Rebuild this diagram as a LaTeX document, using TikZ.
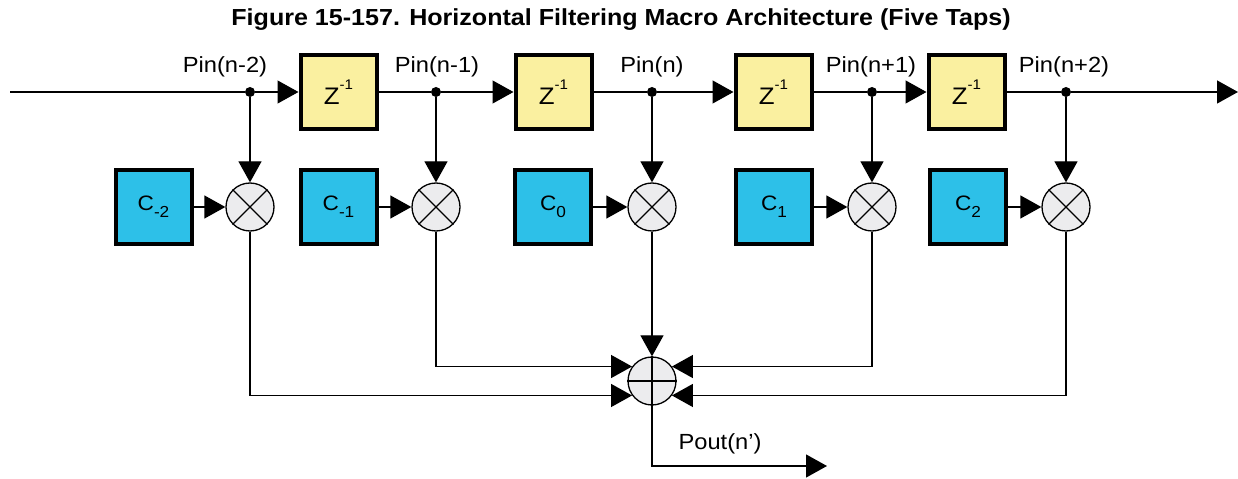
\documentclass[tikz,border=0pt]{standalone}
\usepackage{fontspec}
\setmainfont{Liberation Sans}[FakeStretch=1.08]
\usetikzlibrary{arrows.meta}
\definecolor{zfill}{RGB}{250,240,160}
\definecolor{cfill}{RGB}{45,192,232}
\definecolor{opfill}{RGB}{236,236,238}
\newcommand{\zinv}{{\fontsize{24}{24}\selectfont Z}\raisebox{15bp}{\fontsize{14}{14}\selectfont -1}}
\newcommand{\coef}[1]{{\fontsize{21}{22}\selectfont C}\raisebox{-7bp}{\fontsize{16}{16}\selectfont #1}}
\tikzset{
  wire/.style={line width=1.3bp, draw=black},
  arr/.style={wire, -{Triangle[length=21bp,width=23bp]}},
  zbox/.style={draw=black, line width=4bp, fill=zfill, minimum width=76bp, minimum height=74bp, inner sep=0pt},
  cbox/.style={draw=black, line width=4bp, fill=cfill, minimum width=76bp, minimum height=74bp, inner sep=0pt},
  opnode/.style={circle, draw=black, line width=1.3bp, fill=opfill, minimum size=48bp, inner sep=0pt},
  dotnode/.style={circle, fill=black, minimum size=10bp, inner sep=0pt},
  lbl/.style={font=\fontsize{22}{24}\selectfont, inner sep=0pt}
}
\begin{document}
\begin{tikzpicture}[x=1bp,y=-1bp]
\useasboundingbox (0,0) rectangle (1238,479);
\node[font=\fontsize{23.3}{26}\bfseries\selectfont] (title) at (621,20) {Figure 15-157. Horizontal Filtering Macro Architecture (Five Taps)};

% main line
\coordinate (start) at (10,92);
\coordinate (end) at (1238,92);
\node[dotnode] (d1) at (250,92) {};
\node[dotnode] (d2) at (436,92) {};
\node[dotnode] (d3) at (652,92) {};
\node[dotnode] (d4) at (872,92) {};
\node[dotnode] (d5) at (1066,92) {};

\node[zbox] (z1) at (338.5,92) {\zinv};
\node[zbox] (z2) at (553.5,92) {\zinv};
\node[zbox] (z3) at (773.5,92) {\zinv};
\node[zbox] (z4) at (966.5,92) {\zinv};

\node[lbl] (p1) at (225,67) {Pin(n-2)};
\node[lbl] (p2) at (437,67) {Pin(n-1)};
\node[lbl] (p3) at (652,67) {Pin(n)};
\node[lbl] (p4) at (871,67) {Pin(n+1)};
\node[lbl] (p5) at (1064,67) {Pin(n+2)};

\draw[wire] (start) -- (d1);
\draw[arr] (d1) -- (z1.west);
\draw[wire] (z1.east) -- (d2);
\draw[arr] (d2) -- (z2.west);
\draw[wire] (z2.east) -- (d3);
\draw[arr] (d3) -- (z3.west);
\draw[wire] (z3.east) -- (d4);
\draw[arr] (d4) -- (z4.west);
\draw[wire] (z4.east) -- (d5);
\draw[arr] (d5) -- (end);

% coefficient boxes
\node[cbox] (c1) at (153.5,207) {\coef{-2}};
\node[cbox] (c2) at (338.5,207) {\coef{-1}};
\node[cbox] (c3) at (553,207) {\coef{0}};
\node[cbox] (c4) at (774,207) {\coef{1}};
\node[cbox] (c5) at (968,207) {\coef{2}};

% multipliers
\foreach \i/\x in {1/250,2/436,3/652,4/872,5/1066}{
  \node[opnode] (m\i) at (\x,207) {};
  \draw[wire] (m\i.45) -- (m\i.225) (m\i.135) -- (m\i.315);
  \draw[arr] (d\i) -- (m\i.north);
  \draw[arr] (c\i.east) -- (m\i.west);
}

% adder
\node[opnode] (add) at (652,381) {};
\draw[wire] (add.north) -- (add.south) (add.west) -- (add.east);

\draw[arr] (m3.south) -- (add.north);
\draw[arr] (m2.south) |- (add.144);
\draw[arr] (m1.south) |- (add.216);
\draw[arr] (m4.south) |- (add.36);
\draw[arr] (m5.south) |- (add.324);

\coordinate (outend) at (827,466);
\draw[arr] (add.south) |- (outend);
\node[lbl] (pout) at (720,444) {Pout(n')};
\end{tikzpicture}
\end{document}
